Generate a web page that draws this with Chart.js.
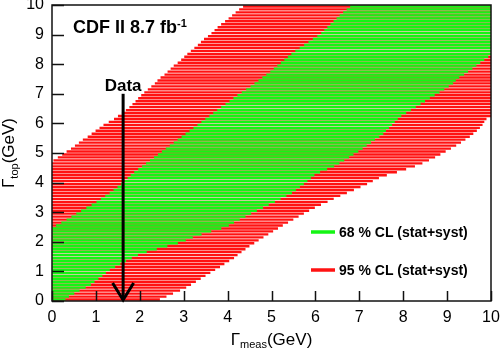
<!DOCTYPE html>
<html>
<head>
<meta charset="utf-8">
<script src="https://cdn.jsdelivr.net/npm/chart.js@4"></script>
<style>
  body { margin: 0; background: #fff; }
  #wrap { width: 500px; height: 349px; }
</style>
</head>
<body>
<div id="wrap"><canvas id="belt" width="500" height="349"></canvas></div>
<script>
// true top width (GeV), one scan line per value
const gammaTop = [
  0.05, 0.15, 0.25, 0.35, 0.45, 0.55, 0.65, 0.75, 0.85, 0.95,
  1.05, 1.15, 1.25, 1.35, 1.45, 1.55, 1.65, 1.75, 1.85, 1.95,
  2.05, 2.15, 2.25, 2.35, 2.45, 2.55, 2.65, 2.75, 2.85, 2.95,
  3.05, 3.15, 3.25, 3.35, 3.45, 3.55, 3.65, 3.75, 3.85, 3.95,
  4.05, 4.15, 4.25, 4.35, 4.45, 4.55, 4.65, 4.75, 4.85, 4.95,
  5.05, 5.15, 5.25, 5.35, 5.45, 5.55, 5.65, 5.75, 5.85, 5.95,
  6.05, 6.15, 6.25, 6.35, 6.45, 6.55, 6.65, 6.75, 6.85, 6.95,
  7.05, 7.15, 7.25, 7.35, 7.45, 7.55, 7.65, 7.75, 7.85, 7.95,
  8.05, 8.15, 8.25, 8.35, 8.45, 8.55, 8.65, 8.75, 8.85, 8.95,
  9.05, 9.15, 9.25, 9.35, 9.45, 9.55, 9.65, 9.75, 9.85, 9.95
];

// 95% CL band in measured width, lower / upper edge (clipped to 0..10)
const lo95 = [
  0, 0, 0, 0, 0, 0, 0, 0, 0, 0,
  0, 0, 0, 0, 0, 0, 0, 0, 0, 0,
  0, 0, 0, 0, 0, 0, 0, 0, 0, 0,
  0, 0, 0, 0, 0, 0, 0, 0, 0, 0,
  0, 0, 0, 0, 0, 0, 0, 0.04, 0.14, 0.24,
  0.34, 0.44, 0.53, 0.62, 0.71, 0.82, 0.91, 1.00, 1.09, 1.18,
  1.30, 1.42, 1.51, 1.60, 1.69, 1.77, 1.84, 1.91, 1.97, 2.04,
  2.11, 2.19, 2.27, 2.35, 2.41, 2.48, 2.57, 2.64, 2.71, 2.78,
  2.87, 2.95, 3.02, 3.09, 3.17, 3.25, 3.33, 3.40, 3.47, 3.56,
  3.64, 3.71, 3.78, 3.86, 3.95, 4.03, 4.11, 4.19, 4.27, 4.36
];
const hi95 = [
  2.45, 2.60, 2.75, 2.91, 3.05, 3.16, 3.27, 3.38, 3.49, 3.60,
  3.71, 3.82, 3.92, 4.03, 4.14, 4.22, 4.31, 4.40, 4.49, 4.60,
  4.70, 4.81, 4.92, 5.03, 5.14, 5.25, 5.37, 5.49, 5.61, 5.73,
  5.85, 5.98, 6.12, 6.27, 6.41, 6.56, 6.71, 6.87, 7.02, 7.17,
  7.30, 7.44, 7.62, 7.85, 8.06, 8.26, 8.43, 8.58, 8.72, 8.84,
  8.96, 9.08, 9.20, 9.31, 9.41, 9.51, 9.59, 9.67, 9.74, 9.80,
  9.84, 9.89, 10, 10, 10, 10, 10, 10, 10, 10,
  10, 10, 10, 10, 10, 10, 10, 10, 10, 10,
  10, 10, 10, 10, 10, 10, 10, 10, 10, 10,
  10, 10, 10, 10, 10, 10, 10, 10, 10, 10
];

// 68% CL band
const lo68 = [
  0, 0, 0, 0, 0, 0, 0, 0, 0, 0,
  0, 0, 0, 0, 0, 0, 0, 0, 0, 0,
  0, 0, 0, 0, 0, 0.10, 0.22, 0.34, 0.45, 0.56,
  0.67, 0.79, 0.91, 1.02, 1.12, 1.22, 1.32, 1.41, 1.50, 1.58,
  1.66, 1.73, 1.80, 1.88, 1.97, 2.06, 2.15, 2.24, 2.33, 2.42,
  2.51, 2.60, 2.69, 2.78, 2.87, 2.96, 3.05, 3.14, 3.23, 3.32,
  3.41, 3.50, 3.59, 3.68, 3.77, 3.86, 3.96, 4.05, 4.14, 4.23,
  4.33, 4.43, 4.53, 4.62, 4.71, 4.80, 4.89, 4.98, 5.06, 5.14,
  5.22, 5.30, 5.38, 5.46, 5.55, 5.65, 5.75, 5.85, 5.95, 6.05,
  6.14, 6.21, 6.28, 6.35, 6.42, 6.49, 6.56, 6.64, 6.72, 6.80
];
const hi68 = [
  0.30, 0.38, 0.50, 0.62, 0.76, 0.88, 0.96, 1.05, 1.14, 1.22,
  1.31, 1.43, 1.55, 1.68, 1.81, 1.95, 2.15, 2.38, 2.62, 2.86,
  3.04, 3.20, 3.40, 3.62, 3.85, 4.02, 4.14, 4.27, 4.40, 4.53,
  4.66, 4.80, 4.93, 5.07, 5.20, 5.33, 5.46, 5.55, 5.64, 5.73,
  5.81, 5.89, 5.97, 6.10, 6.26, 6.42, 6.54, 6.65, 6.76, 6.86,
  6.97, 7.07, 7.16, 7.26, 7.35, 7.45, 7.54, 7.60, 7.67, 7.74,
  7.80, 7.87, 7.95, 8.06, 8.17, 8.28, 8.39, 8.49, 8.60, 8.71,
  8.82, 8.93, 9.03, 9.13, 9.19, 9.27, 9.38, 9.47, 9.57, 9.66,
  9.75, 9.84, 9.93, 10, 10, 10, 10, 10, 10, 10,
  10, 10, 10, 10, 10, 10, 10, 10, 10, 10
];

const dataMeas = 1.62;   // measured width, where the arrow points
const arrowTop = 7.0;
const legendLabels = ['68 % CL (stat+syst)', '95 % CL (stat+syst)'];

const green = 'rgb(20, 245, 20)';
const red = 'rgb(255, 18, 18)';
const font = '"Liberation Sans", Arial, Helvetica, sans-serif';

function band(lo, hi) {
  return gammaTop.map((g, i) => ({ y: g, x: [lo[i], hi[i]] }));
}

// text with sub/superscript pieces: [text, sizePx, dy]
function drawPieces(ctx, pieces, x, y, weight) {
  pieces.forEach(p => {
    ctx.font = `${weight} ${p[1]}px ${font}`;
    ctx.fillText(p[0], x, y + p[2]);
    x += ctx.measureText(p[0]).width;
  });
}
function piecesWidth(ctx, pieces, weight) {
  let w = 0;
  pieces.forEach(p => {
    ctx.font = `${weight} ${p[1]}px ${font}`;
    w += ctx.measureText(p[0]).width;
  });
  return w;
}

const decorations = {
  id: 'decorations',
  afterDraw(chart) {
    const { ctx, chartArea: a, scales: { x, y } } = chart;
    ctx.save();

    // frame
    ctx.strokeStyle = '#111';
    ctx.lineWidth = 1.5;
    ctx.strokeRect(a.left, a.top, a.right - a.left, a.bottom - a.top);

    // ticks pointing inward
    ctx.beginPath();
    x.ticks.forEach(t => {
      const px = Math.round(x.getPixelForValue(t.value)) + 0.5;
      ctx.moveTo(px, a.bottom);
      ctx.lineTo(px, a.bottom - 10);
    });
    y.ticks.forEach(t => {
      const py = Math.round(y.getPixelForValue(t.value)) + 0.5;
      ctx.moveTo(a.left, py);
      ctx.lineTo(a.left + 12, py);
    });
    ctx.stroke();

    // data arrow
    const ax = x.getPixelForValue(dataMeas);
    ctx.strokeStyle = '#000';
    ctx.lineWidth = 3;
    ctx.beginPath();
    ctx.moveTo(ax, y.getPixelForValue(arrowTop));
    ctx.lineTo(ax, a.bottom - 1);
    ctx.stroke();
    ctx.beginPath();
    ctx.moveTo(ax - 10.5, a.bottom - 18);
    ctx.lineTo(ax, a.bottom - 1);
    ctx.lineTo(ax + 10.5, a.bottom - 18);
    ctx.stroke();

    ctx.fillStyle = '#000';
    ctx.textBaseline = 'alphabetic';
    ctx.textAlign = 'center';
    ctx.font = `bold 17px ${font}`;
    ctx.fillText('Data', ax, 91);

    // experiment label
    ctx.textAlign = 'left';
    drawPieces(ctx, [['CDF II 8.7 fb', 18, 0], ['-1', 11, -6]], 73, 33, 'bold');

    // legend
    ctx.font = `bold 14px ${font}`;
    ctx.textBaseline = 'middle';
    [[green, 232], [red, 270]].forEach((row, i) => {
      ctx.strokeStyle = row[0];
      ctx.lineWidth = 3.5;
      ctx.beginPath();
      ctx.moveTo(311, row[1]);
      ctx.lineTo(335, row[1]);
      ctx.stroke();
      ctx.fillText(legendLabels[i], 339, row[1] + 1);
    });

    // axis titles
    ctx.textBaseline = 'alphabetic';
    const xt = [['\u0393', 17, 0], ['meas', 11, 3], ['(GeV)', 17, 0]];
    const xw = piecesWidth(ctx, xt, 'normal');
    drawPieces(ctx, xt, (a.left + a.right) / 2 - xw / 2, 345, 'normal');

    const yt = [['\u0393', 17, 0], ['top', 11, 4], ['(GeV)', 17, 0]];
    const yw = piecesWidth(ctx, yt, 'normal');
    ctx.translate(14, (a.top + a.bottom) / 2);
    ctx.rotate(-Math.PI / 2);
    drawPieces(ctx, yt, -yw / 2, 0, 'normal');

    ctx.restore();
  }
};

new Chart(document.getElementById('belt'), {
  type: 'bar',
  data: {
    datasets: [
      {
        label: legendLabels[0],
        data: band(lo68, hi68),
        backgroundColor: green,
        borderWidth: 0,
        barThickness: 1.7,
        grouped: false
      },
      {
        label: legendLabels[1],
        data: band(lo95, hi95),
        backgroundColor: red,
        borderWidth: 0,
        barThickness: 1.7,
        grouped: false
      }
    ]
  },
  options: {
    indexAxis: 'y',
    responsive: false,
    animation: false,
    devicePixelRatio: 1,
    layout: { padding: { top: 5, right: 9, left: 0, bottom: 0 } },
    scales: {
      x: {
        type: 'linear',
        min: 0,
        max: 10,
        offset: false,
        grid: { display: false, drawTicks: false },
        border: { display: false },
        ticks: {
          stepSize: 1,
          padding: 7,
          color: '#000',
          font: { family: font, size: 16 }
        },
        afterFit: scale => {
          scale.height = 48;
          scale.paddingLeft = 0;
          scale.paddingRight = 0;
        }
      },
      y: {
        type: 'linear',
        min: 0,
        max: 10,
        offset: false,
        grid: { display: false, drawTicks: false },
        border: { display: false },
        ticks: {
          stepSize: 1,
          padding: 8,
          color: '#000',
          font: { family: font, size: 16 }
        },
        afterFit: scale => {
          scale.width = 52;
          scale.paddingTop = 0;
          scale.paddingBottom = 0;
        }
      }
    },
    plugins: {
      legend: { display: false },
      tooltip: { enabled: false }
    }
  },
  plugins: [decorations]
});
</script>
</body>
</html>
